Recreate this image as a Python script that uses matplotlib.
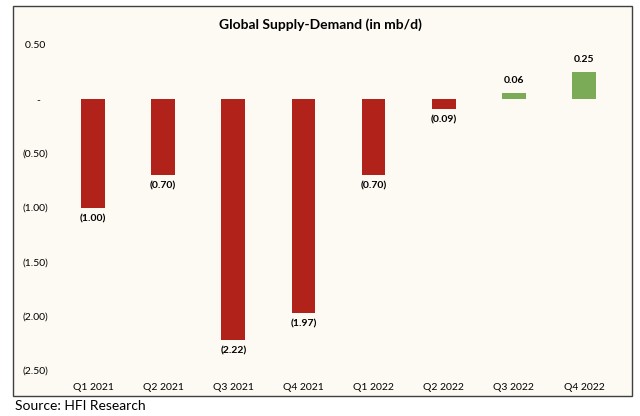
import numpy as np
import matplotlib.pyplot as plt
from matplotlib.patches import Rectangle

quarters = ['Q1 2021', 'Q2 2021', 'Q3 2021', 'Q4 2021',
            'Q1 2022', 'Q2 2022', 'Q3 2022', 'Q4 2022']
balance = [-1.00, -0.70, -2.22, -1.97, -0.70, -0.09, 0.06, 0.25]
yticks = [0.5, 0.0, -0.5, -1.0, -1.5, -2.0, -2.5]

RED = '#B0221A'
GREEN = '#7BAB57'
BG = '#FDFAF3'

plt.rcParams['font.family'] = ['Lato', 'DejaVu Sans']


def fmt(v, pad=False):
    # accounting style: negatives in brackets, zero as a dash
    if abs(v) < 1e-9:
        return '-   ' if pad else '-'
    if v < 0:
        return f'({abs(v):.2f})'
    return f'{v:.2f} ' if pad else f'{v:.2f}'


fig = plt.figure(figsize=(6.4, 4.16), dpi=100)
fig.patch.set_facecolor('white')

# framed chart area, drawn on its own background axes
bg = fig.add_axes([0, 0, 1, 1], zorder=0)
bg.set_axis_off()
bg.set_xlim(0, 640)
bg.set_ylim(416, 0)
bg.add_patch(Rectangle((13, 6), 619, 390, facecolor=BG,
                       edgecolor='#404040', linewidth=1.0))

ax = fig.add_axes([58 / 640, 1 - 370 / 416, (619 - 58) / 640, (370 - 45) / 416],
                  zorder=1)
ax.set_facecolor('none')

x = np.arange(len(quarters))
colors = [RED if v < 0 else GREEN for v in balance]
ax.bar(x, balance, width=0.34, color=colors, edgecolor='none')

for xi, v in zip(x, balance):
    if v < 0:
        ax.text(xi, v - 0.06, fmt(v), ha='center', va='top',
                fontsize=7.5, fontweight='bold')
    else:
        ax.text(xi, v + 0.07, fmt(v), ha='center', va='bottom',
                fontsize=7.5, fontweight='bold')

ax.set_xlim(-0.5, len(quarters) - 0.5)
ax.set_ylim(-2.5, 0.5)
ax.set_yticks(yticks)
ax.set_yticklabels([fmt(t, pad=True) for t in yticks], fontsize=7.5)
ax.set_xticks(x)
ax.set_xticklabels(quarters, fontsize=7.5)
ax.tick_params(length=0)
ax.tick_params(axis='y', pad=7)
ax.tick_params(axis='x', pad=9)
for s in ax.spines.values():
    s.set_visible(False)

fig.text(0.5, 1 - 25 / 416, 'Global Supply-Demand (in mb/d)', ha='center',
         va='center', fontsize=10, fontweight='bold')
fig.text(15 / 640, 1 - 406 / 416, 'Source: HFI Research', ha='left',
         va='center', fontsize=10)

fig.savefig('out.png', dpi=100)
